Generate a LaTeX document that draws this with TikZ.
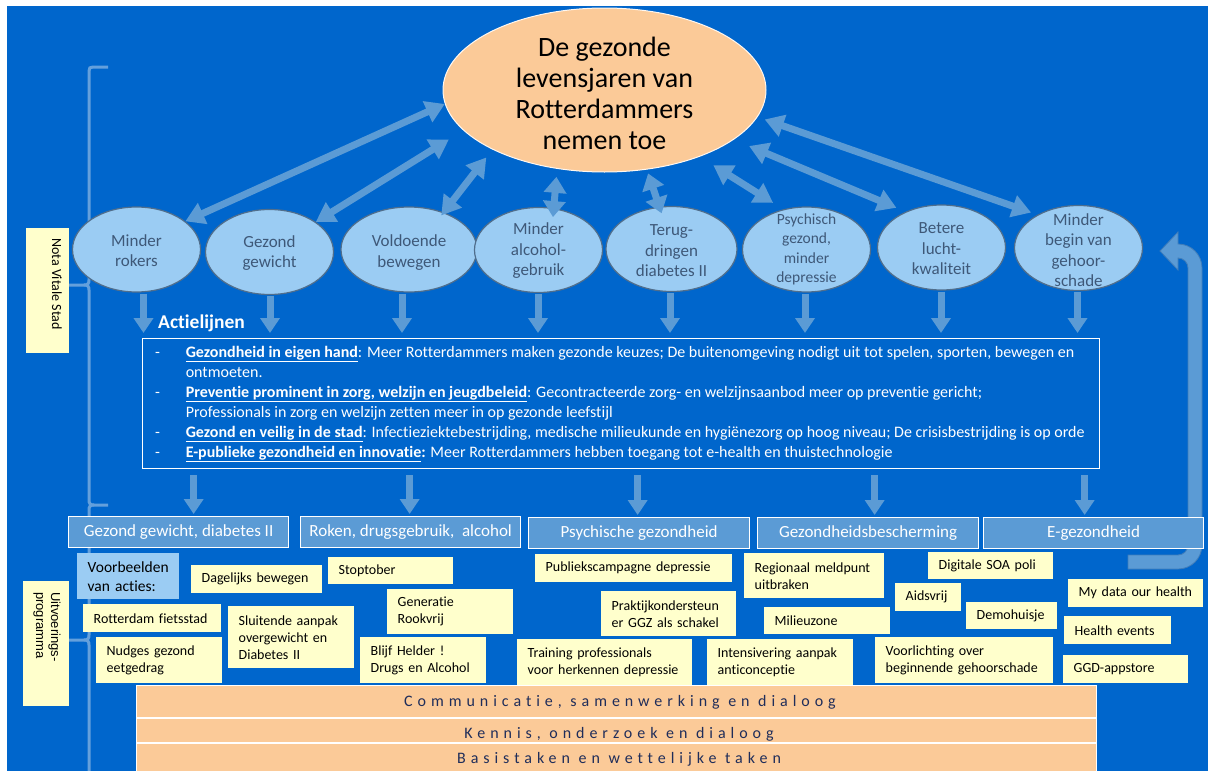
\documentclass[tikz,border=0pt]{standalone}
\usepackage{fontspec}
\setmainfont{Carlito}[Ligatures={TeX,NoCommon}]
\newfontfamily\arialf{Liberation Sans}
\newfontfamily\spacedfont{Carlito}[LetterSpace=31,Ligatures=NoCommon]
\usetikzlibrary{arrows.meta,shapes.geometric,calc}
\definecolor{bgblue}{RGB}{0,102,204}
\definecolor{arrblue}{RGB}{91,155,213}
\definecolor{arrline}{RGB}{65,125,185}
\definecolor{ellblue}{RGB}{155,204,243}
\definecolor{ellline}{RGB}{80,110,140}
\definecolor{elltxt}{RGB}{62,88,120}
\definecolor{peach}{RGB}{251,202,152}
\definecolor{noteyel}{RGB}{255,255,204}
\definecolor{navy}{RGB}{31,45,90}
\definecolor{bracec}{RGB}{100,160,220}
\tikzset{
  sell/.style={ellipse, draw=ellline, line width=1.2pt, fill=ellblue, minimum width=128pt, minimum height=85pt, inner sep=0pt},
  stxt/.style={align=center, text=elltxt, font=\fontsize{17}{20.5}\selectfont, inner sep=0pt},
  dbl/.style={draw=arrblue, line width=7pt, >={Triangle[width=22pt,length=19pt]}, <->},
  dbls/.style={draw=arrblue, line width=7pt, >={Triangle[width=22pt,length=16pt]}, <->},
  darr/.style={draw=arrblue, line width=7pt, -{Triangle[width=19pt,length=15pt]}},
  catbox/.style={rectangle, draw=white, line width=1.3pt, fill=arrblue, text=white, font=\fontsize{17}{20}\selectfont, anchor=north west, inner sep=0pt},
  notebox/.style={rectangle, fill=noteyel, anchor=north west, inner xsep=10.5pt, inner ysep=0pt, align=left, font=\fontsize{14}{17}\selectfont, text=black},
  ybox/.style={rectangle, fill=noteyel, draw=none, inner sep=0pt},
  barbox/.style={rectangle, fill=peach, anchor=north west, inner sep=0pt, minimum width=959pt},
  bartxt/.style={text=navy, inner sep=0pt, font=\spacedfont\fontsize{16}{18}\selectfont},
  bracel/.style={draw=bracec, line width=3pt},
}
\begin{document}
\begin{tikzpicture}[x=1pt,y=-1pt]
\useasboundingbox (0,0) rectangle (1208,771);
\fill[white] (0,0) rectangle (1208,771);
\fill[bgblue] (7,6) rectangle (1208,771);

% braces
\draw[bracel] (108,67) -- (93,67) .. controls (90,67) and (89,68) .. (89,71) -- (89,280) .. controls (89,283.5) and (88,285) .. (84,285) -- (69,285);
\draw[bracel] (84,285) .. controls (88,285) and (89,286.5) .. (89,290) -- (89,500) .. controls (89,503.5) and (90,505) .. (94,505) -- (108,505);
\draw[bracel] (94,505) .. controls (90,505) and (89,506.5) .. (89,510) -- (89,635) .. controls (89,638.5) and (88,640) .. (84,640) -- (69,640);
\draw[bracel] (84,640) .. controls (88,640) and (89,641.5) .. (89,645) -- (89,771);

% side labels
\node[ybox, minimum width=43pt, minimum height=125pt] (nvsb) at (47.5,290.5) {};
\node[rotate=-90, anchor=base west, inner sep=0pt, font=\fontsize{14}{16}\selectfont] (nvs) at (52,238) {Nota Vitale Stad};
\node[ybox, minimum width=46pt, minimum height=125pt] (uvb) at (46,643.5) {};
\node[rotate=-90, anchor=base west, inner sep=0pt, font=\arialf\fontsize{13}{15}\selectfont] (uv1) at (51,592) {Uitvoerings-};
\node[rotate=-90, anchor=base west, inner sep=0pt, font=\arialf\fontsize{13}{15}\selectfont] (uv2) at (36,592) {programma};

% U-shaped feedback arrow
\filldraw[fill=arrblue, draw=arrline, line width=0.8pt]
  (1128,555) -- (1178,555) .. controls (1183.5,555) and (1188,550.5) .. (1188,545)
  -- (1188,268) .. controls (1188,262.5) and (1183.5,258) .. (1178,258)
  -- (1178,270) -- (1160,251) -- (1178,232) -- (1178,244)
  .. controls (1191.3,244) and (1202,254.7) .. (1202,268)
  -- (1202,545) .. controls (1202,558.3) and (1191.3,569) .. (1178,569)
  -- (1128,569) -- cycle;

% top ellipse
\node[ellipse, draw=white!85!peach, line width=1pt, fill=peach, minimum width=323pt, minimum height=164pt, inner sep=0pt] (top) at (604.5,90) {};
\node[align=center, font=\fontsize{28}{31}\selectfont, inner sep=0pt, text=black] (topt) at (604.5,93) {De gezonde\\levensjaren van\\Rotterdammers\\nemen toe};

% goal ellipses
\node[sell] (e1) at (136.5,249.5) {};
\node[sell] (e2) at (269.5,252) {};
\node[sell, minimum width=136pt] (e3) at (409,249.5) {};
\node[sell] (e4) at (538.5,250) {};
\node[sell, minimum width=131pt] (e5) at (671.5,249) {};
\node[sell] (e6) at (806.5,249.5) {};
\node[sell] (e7) at (941.5,247.5) {};
\node[sell] (e8) at (1078.5,248) {};
\node[stxt] (e1t) at (136.5,250.5) {Minder\\rokers};
\node[stxt] (e2t) at (269.5,253) {Gezond\\gewicht};
\node[stxt] (e3t) at (409,252.5) {Voldoende\\bewegen};
\node[stxt] (e4t) at (538.5,251) {Minder\\alcohol-\\gebruik};
\node[stxt] (e5t) at (671.5,251) {Terug-\\dringen\\diabetes II};
\node[stxt, font=\fontsize{15.5}{19.3}\selectfont] (e6t) at (806.5,249.5) {Psychisch\\gezond,\\minder\\depressie};
\node[stxt] (e7t) at (941.5,249) {Betere\\lucht-\\kwaliteit};
\node[stxt] (e8t) at (1078.5,250) {Minder\\begin van\\gehoor-\\schade};

% double arrows
\draw[dbl] (e1.30) -- (top.185);
\draw[dbl, shorten >=17pt] (e2.33) -- (top.196);
\draw[dbl, shorten <=-4pt, shorten >=10pt] (e3.47.5) -- (top.208.8);
\draw[dbls, shorten <=-9pt, shorten >=8pt] (e4.70) -- (top.239);
\draw[dbls, shorten <=-7pt, shorten >=4pt] (e5.106) -- (top.298.6);
\draw[dbl, shorten <=12pt, shorten >=16pt] (e6.120) -- (top.325);
\draw[dbl, shorten <=10pt, shorten >=16.5pt] (e7.135) -- (top.339.6);
\draw[dbl, shorten <=6.7pt, shorten >=7.5pt] (e8.141) -- (top.350.5);

% Actielijnen box
\node[rectangle, draw=white, line width=1.3pt, minimum width=957pt, minimum height=130pt, anchor=north west, inner sep=0pt] (alb) at (142,338) {};
\node[anchor=base west, inner sep=0pt, text=white, font=\bfseries\fontsize{19.5}{22}\selectfont] (alh) at (158,328) {Actielijnen};
\node[anchor=north west, inner sep=0pt, text=white, font=\fontsize{16}{20}\selectfont] (alt) at (155,343) {%
\begin{tabular}{@{}p{30.6pt}@{}l@{}}
-&\textbf{\underline{Gezondheid in eigen hand}}: Meer Rotterdammers maken gezonde keuzes; De buitenomgeving nodigt uit tot spelen, sporten, bewegen en\\
&ontmoeten.\\
-&\textbf{\underline{Preventie prominent in zorg, welzijn en jeugdbeleid}}: Gecontracteerde zorg- en welzijnsaanbod meer op preventie gericht;\\
&Professionals in zorg en welzijn zetten meer in op gezonde leefstijl\\
-&\textbf{\underline{Gezond en veilig in de stad}}: Infectieziektebestrijding, medische milieukunde en hygiënezorg op hoog niveau; De crisisbestrijding is op orde\\
-&\textbf{\underline{E-publieke gezondheid en innovatie}:} Meer Rotterdammers hebben toegang tot e-health en thuistechnologie
\end{tabular}};

% arrows ellipses -> box
\coordinate (d1) at ($(e1.south)+(7,1)$);
\coordinate (d2) at ($(e2.south)+(0.5,1)$);
\coordinate (d3) at ($(e3.south)+(-7,1)$);
\coordinate (d4) at ($(e4.south)+(-0.5,1)$);
\coordinate (d5) at ($(e5.south)+(-1.5,1)$);
\coordinate (d6) at ($(e6.south)+(-1.5,1)$);
\coordinate (d7) at ($(e7.south)+(-0.5,1)$);
\coordinate (d8) at ($(e8.south)+(-1,1)$);
\foreach \d in {d1,d2,d3,d4,d5,d6,d7,d8}
  \draw[darr, shorten >=5pt] (\d) -- (\d |- alb.north);

% category bars
\node[catbox, minimum width=220pt, minimum height=31pt] (c1) at (68,516) {Gezond gewicht, diabetes II};
\node[catbox, minimum width=220pt, minimum height=31pt] (c2) at (300,516) {Roken, drugsgebruik,\ \ alcohol};
\node[catbox, minimum width=221pt, minimum height=31pt] (c3) at (528,517) {Psychische gezondheid};
\node[catbox, minimum width=221pt, minimum height=31pt] (c4) at (757,517) {Gezondheidsbescherming};
\node[catbox, minimum width=220pt, minimum height=31pt] (c5) at (983,517) {E-gezondheid};

% arrows box -> bars
\coordinate (f1) at ($(c1.north)+(15,0)$);
\coordinate (f2) at ($(c2.north)+(-1,0)$);
\coordinate (f3) at ($(c3.north)+(-1.5,0)$);
\coordinate (f4) at ($(c4.north)+(6.5,0)$);
\coordinate (f5) at ($(c5.north)+(-9,0)$);
\foreach \f in {f1,f2,f3,f4,f5}
  \draw[darr, shorten <=6pt, shorten >=2pt] (\f |- alb.south) -- (\f);

% example notes
\node[notebox, fill=ellblue, text width=81pt, minimum height=46pt, font=\fontsize{15.5}{19}\selectfont] (vb) at (77,553) {Voorbeelden\\van acties:};
\node[notebox, text width=110pt, minimum height=28pt] (n1) at (191,565) {Dagelijks bewegen};
\node[notebox, text width=104pt, minimum height=27pt] (n2) at (328,557) {Stoptober};
\node[notebox, text width=117pt, minimum height=28pt] (n3) at (83,604) {Rotterdam fietsstad};
\node[notebox, text width=105pt, minimum height=62pt] (n4) at (228,606) {Sluitende aanpak\\overgewicht en\\Diabetes II};
\node[notebox, text width=105pt, minimum height=46pt] (n5) at (96,637) {Nudges gezond\\eetgedrag};
\node[notebox, text width=105pt, minimum height=45pt] (n6) at (387,589) {Generatie\\Rookvrij};
\node[notebox, text width=105pt, minimum height=46pt] (n7) at (360,637) {Blijf Helder !\\Drugs en Alcohol};
\node[notebox, text width=176pt, minimum height=28pt] (n8) at (535,554) {Publiekscampagne depressie};
\node[notebox, text width=114pt, minimum height=45pt] (n9) at (601,591) {Praktijkondersteun\\er GGZ als schakel};
\node[notebox, text width=154pt, minimum height=47pt] (n10) at (517,639) {Training professionals\\voor herkennen depressie};
\node[notebox, text width=125pt, minimum height=47pt] (n11) at (707,639) {Intensivering aanpak\\anticonceptie};
\node[notebox, text width=119pt, minimum height=45pt] (n12) at (744,553) {Regionaal meldpunt\\uitbraken};
\node[notebox, text width=105pt, minimum height=27pt] (n13) at (764,607) {Milieuzone};
\node[notebox, text width=104pt, minimum height=27pt] (n14) at (928,552) {Digitale SOA poli};
\node[notebox, text width=45pt, minimum height=28pt] (n15) at (895,583) {Aidsvrij};
\node[notebox, text width=70pt, minimum height=27pt] (n16) at (966,602) {Demohuisje};
\node[notebox, text width=157pt, minimum height=46pt] (n17) at (875,637) {Voorlichting over\\beginnende gehoorschade};
\node[notebox, text width=114pt, minimum height=28pt] (n18) at (1068,579) {My data our health};
\node[notebox, text width=86pt, minimum height=28pt] (n19) at (1064,616) {Health events};
\node[notebox, text width=104pt, minimum height=28pt] (n20) at (1063,655) {GGD-appstore};

% bottom bars
\fill[white] (136,684.5) rectangle (1097,771);
\node[barbox, minimum height=31pt] (b1) at (137,686) {};
\node[barbox, minimum height=23pt] (b2) at (137,719) {};
\node[barbox, minimum height=27pt] (b3) at (137,744) {};
\node[bartxt] (b1t) at (620,702) {Communicatie, samenwerking en dialoog};
\node[bartxt] (b2t) at (619,734) {Kennis, onderzoek en dialoog};
\node[bartxt] (b3t) at (619,759) {Basistaken en wettelijke taken};
\end{tikzpicture}
\end{document}
